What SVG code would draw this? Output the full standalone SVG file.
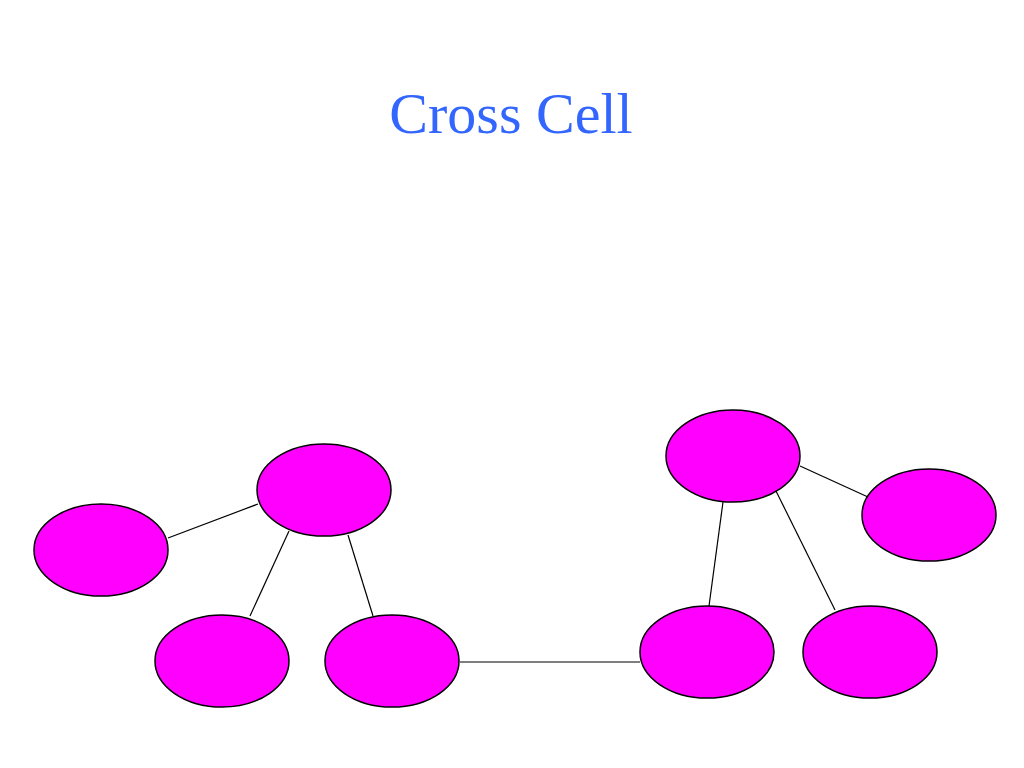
<svg xmlns="http://www.w3.org/2000/svg" width="1024" height="768" viewBox="0 0 1024 768">
<style>
.n{fill:#ff00ff;stroke:#000;stroke-width:1.5}
.c line{stroke:#000;stroke-width:1.2}
</style>
<rect width="1024" height="768" fill="#fff"/>
<text x="511" y="133" text-anchor="middle" font-family="Liberation Serif, serif" font-size="58" fill="#3366ff">Cross Cell</text>
<g class="c" id="connectors">
<line x1="168" y1="538" x2="258" y2="504"/>
<line x1="289" y1="531" x2="250" y2="616"/>
<line x1="348" y1="535" x2="373" y2="616"/>
<line x1="460" y1="662" x2="640" y2="662"/>
<line x1="723" y1="502" x2="709" y2="606"/>
<line x1="776" y1="491" x2="835" y2="610"/>
<line x1="800" y1="466" x2="868" y2="497"/>
</g>
<g id="nA"><ellipse class="n" cx="101" cy="550" rx="67" ry="46"/></g>
<g id="nB"><ellipse class="n" cx="324" cy="490" rx="67" ry="46"/></g>
<g id="nC"><ellipse class="n" cx="222" cy="661" rx="67" ry="46"/></g>
<g id="nD"><ellipse class="n" cx="392" cy="661" rx="67" ry="46"/></g>
<g id="nE"><ellipse class="n" cx="733" cy="456" rx="67" ry="46"/></g>
<g id="nF"><ellipse class="n" cx="929" cy="515" rx="67" ry="46"/></g>
<g id="nG"><ellipse class="n" cx="707" cy="652" rx="67" ry="46"/></g>
<g id="nH"><ellipse class="n" cx="870" cy="652" rx="67" ry="46"/></g>
</svg>
